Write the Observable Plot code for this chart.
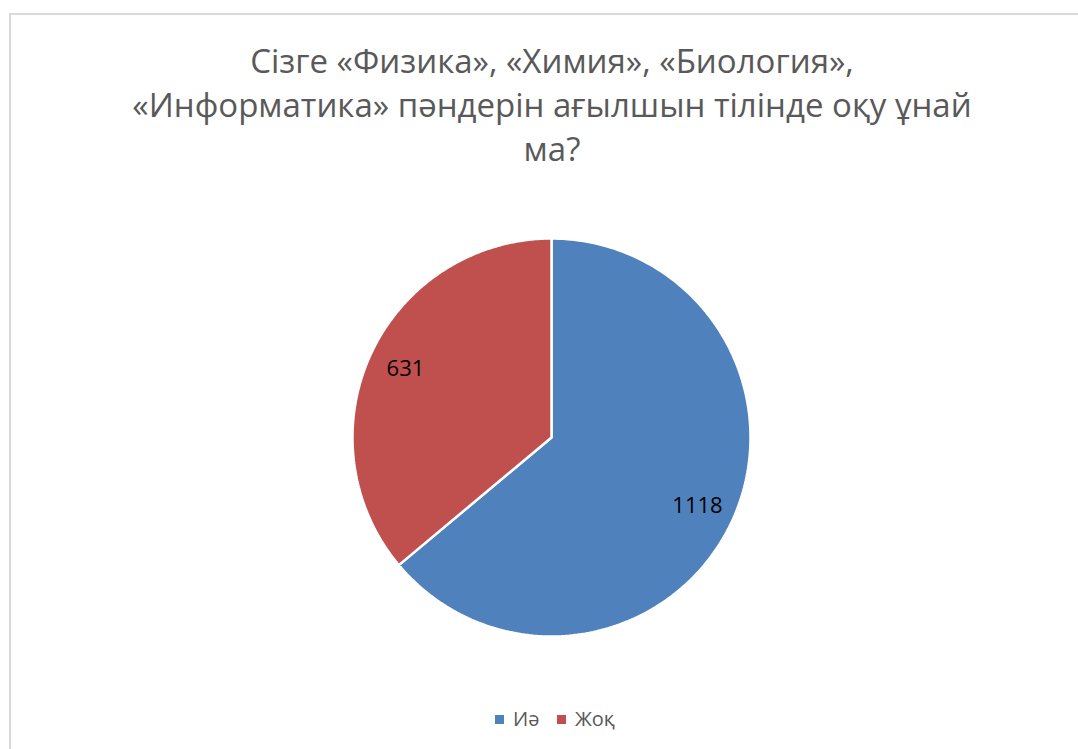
<!DOCTYPE html>
<html>
<head>
<meta charset="utf-8">
<script src="https://cdn.jsdelivr.net/npm/d3@7"></script>
<script src="https://cdn.jsdelivr.net/npm/@observablehq/plot@0.6"></script>
<style>
  html, body { margin: 0; padding: 0; background: #fff; width: 1078px; height: 749px; overflow: hidden; }
  #frame { position: absolute; left: 9px; top: 13px; width: 1090px; height: 760px; border: 2px solid #d9d9d9; box-sizing: border-box; }
  #title { position: absolute; left: 10px; top: 39px; width: 1084px; text-align: center; font-family: "Open Sans", sans-serif; font-size: 33px; line-height: 44px; color: #595959; }
  #chart { position: absolute; left: 0; top: 200px; }
  #legend { position: absolute; left: 0; top: 705px; width: 1078px; font-family: "Open Sans", sans-serif; font-size: 20px; color: #595959; }
  .li { position: absolute; top: 0; white-space: nowrap; }
  .sw { display: inline-block; width: 9px; height: 9px; margin-right: 9px; vertical-align: 2px; }
</style>
</head>
<body>
<div id="frame"></div>
<div id="title">Сізге «Физика», «Химия», «Биология»,<br>«Информатика» пәндерін ағылшын тілінде оқу ұнай<br>ма?</div>
<div id="chart"></div>
<div id="legend"></div>
<script>
const categories = ["Иә", "Жоқ"];
const values = [1118, 631];
const colors = ["#4F81BD", "#C0504D"];

const pie = d3.pie().sort(null).value(d => d.value).startAngle(0).endAngle(2 * Math.PI);
const arcs = pie(categories.map((c, i) => ({category: c, value: values[i], color: colors[i]})));

function slicePoints(a) {
  const pts = [{x: 0, y: 0}];
  const n = 200;
  for (let k = 0; k <= n; k++) {
    const t = a.startAngle + (a.endAngle - a.startAngle) * k / n;
    pts.push({x: Math.sin(t), y: Math.cos(t)});
  }
  pts.push({x: 0, y: 0});
  return pts;
}

const labelR = 0.81;
const labels = arcs.map(a => {
  const m = (a.startAngle + a.endAngle) / 2;
  return {x: labelR * Math.sin(m), y: labelR * Math.cos(m), text: String(a.data.value)};
});

const W = 1078, H = 480;
const cx = 551, cy = 437 - 200, r = 199;

const chart = Plot.plot({
  width: W,
  height: H,
  marginLeft: cx - r,
  marginRight: W - (cx + r),
  marginTop: cy - r,
  marginBottom: H - (cy + r),
  x: {domain: [-1, 1], axis: null},
  y: {domain: [-1, 1], axis: null},
  style: {background: "transparent", overflow: "visible"},
  marks: [
    ...arcs.map(a => Plot.line(slicePoints(a), {
      x: "x", y: "y", fill: a.data.color, stroke: "white", strokeWidth: 2.5, strokeLinejoin: "miter"
    })),
    Plot.text(labels, {x: "x", y: "y", text: "text", fontSize: 22, fill: "#000", fontFamily: "Open Sans, sans-serif"})
  ]
});
document.getElementById("chart").appendChild(chart);

const legend = document.getElementById("legend");
const legendX = [495, 557];
categories.forEach((c, i) => {
  const d = document.createElement("div");
  d.className = "li";
  d.style.left = legendX[i] + "px";
  d.innerHTML = `<span class="sw" style="background:${colors[i]}"></span>${c}`;
  legend.appendChild(d);
});
</script>
</body>
</html>
